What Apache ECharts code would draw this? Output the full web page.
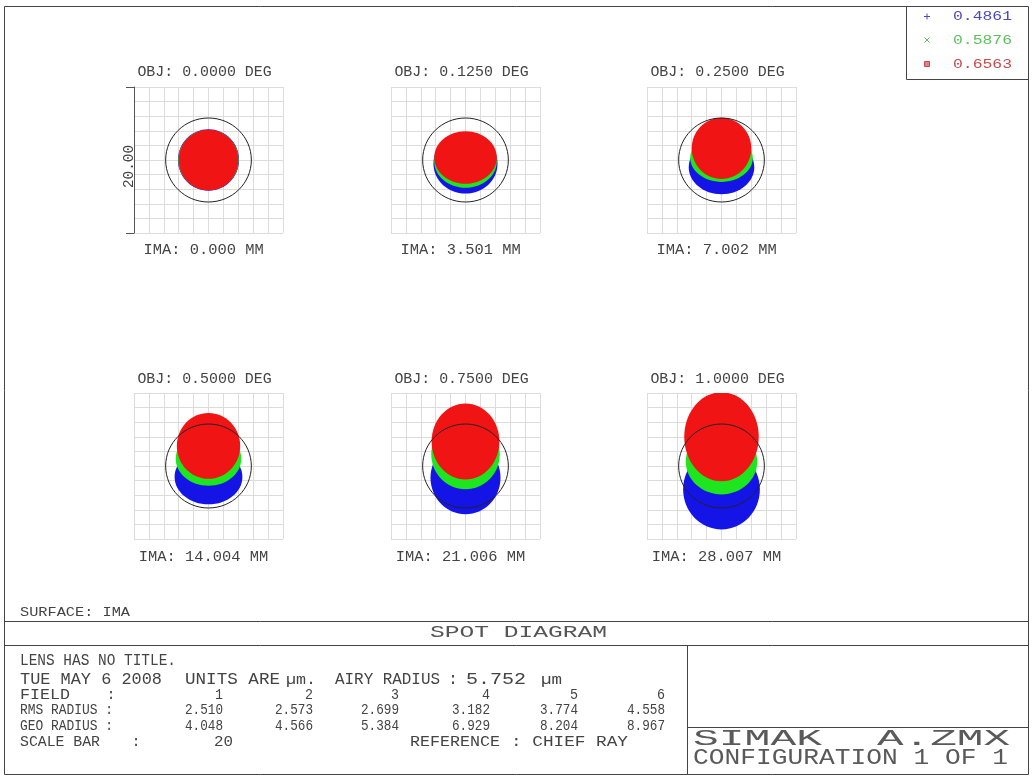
<!DOCTYPE html>
<html><head><meta charset="utf-8">
<script src="https://cdn.jsdelivr.net/npm/echarts@6/dist/echarts.min.js"></script>
<style>html,body{margin:0;padding:0;background:#fff}#c{width:1033px;height:776px}</style>
</head><body><div id="c"></div>
<script>
// ---------- data ----------
const objLabels = ['OBJ: 0.0000 DEG','OBJ: 0.1250 DEG','OBJ: 0.2500 DEG','OBJ: 0.5000 DEG','OBJ: 0.7500 DEG','OBJ: 1.0000 DEG'];
const imaLabels = ['IMA: 0.000 MM','IMA: 3.501 MM','IMA: 7.002 MM','IMA: 14.004 MM','IMA: 21.006 MM','IMA: 28.007 MM'];
const fieldNumbers = ['1','2','3','4','5','6'];
const rmsRadius = ['2.510','2.573','2.699','3.182','3.774','4.558'];
const geoRadius = ['4.048','4.566','5.384','6.929','8.204','8.967'];
const wavelengths = ['0.4861','0.5876','0.6563'];
const airyRadius = 5.752;
const scaleBar = '20';
// spot footprint per field, in µm relative to chief ray: [cx, cy, rx, ry]
const spotBlue  = [[0,0,4.1,4.2],[0,-0.5,4.3,4.1],[0,-1.0,4.4,3.7],[0,-1.5,4.55,3.75],[0,-1.6,4.7,5.0],[0,-3.2,5.15,5.5]];
const spotGreen = [[0,0,4.05,4.1],[0,-0.2,4.2,3.6],[0,0.3,4.2,3.3],[0,1.0,4.4,3.7],[0,1.6,4.6,4.8],[0,0.6,4.8,4.5]];
const spotRed   = [[0,0,4.0,4.15],[0,0.35,4.2,3.6],[0,1.6,4.0,4.2],[0,2.75,4.25,4.5],[0,3.35,4.55,5.2],[0,4.0,5.0,6.1]];

// ---------- styling / layout ----------
const spotColors = ['#1414e6','#1ee61e','#f01414'];
const legendColors = ['#4b4bbf','#5cbf5c','#c44c4c'];
const gridLeft = [134, 391, 647], gridTop = [87, 393], gridW = 149, gridH = 146;
const INK = '#444444';
const FONT = '"Liberation Mono", monospace';
const mctx = document.createElement('canvas').getContext('2d');

function txt(str, x, y, cap, w, o) {
  o = o || {};
  const fs = cap / 0.659;
  const font = fs.toFixed(2) + 'px ' + FONT;
  mctx.font = font;
  const mw = mctx.measureText(str).width;
  const sx = w ? w / mw : 1;
  const al = o.align || 'left';
  return {type:'text', x:x, y:y, rotation:o.rot || 0, scaleX:sx, silent:true, z:10,
    style:{text:str, x:0, y:0, font:font, fill:o.color || INK,
      align:al, verticalAlign:'middle', textAlign:al, textVerticalAlign:'middle'}};
}
function ln(x1,y1,x2,y2,c,w){
  return {type:'line', silent:true, z:5, shape:{x1:x1,y1:y1,x2:x2,y2:y2}, style:{stroke:c||'#444', lineWidth:w||1}};
}

const grids = [], xAxes = [], yAxes = [], series = [], graphics = [];
for (let i = 0; i < 6; i++) {
  const col = i % 3, row = Math.floor(i / 3);
  grids.push({left:gridLeft[col], top:gridTop[row], width:gridW, height:gridH, containLabel:false});
  const ax = {gridIndex:i, type:'value', min:-10, max:10, interval:2,
    axisLine:{show:false}, axisTick:{show:false}, axisLabel:{show:false},
    splitLine:{show:true, lineStyle:{color:'#dcdcdc', width:1}}};
  xAxes.push(Object.assign({}, ax));
  yAxes.push(Object.assign({}, ax));
}
// scale bar on first plot
yAxes.push({gridIndex:0, type:'value', min:-10, max:10, interval:20, position:'left',
  axisLine:{show:true, lineStyle:{color:'#555', width:1}},
  axisTick:{show:true, length:8, lineStyle:{color:'#555', width:1}},
  axisLabel:{show:false}, splitLine:{show:false}});

function ellipseRender(fill, stroke) {
  return function(params, api) {
    const c = api.coord([api.value(0), api.value(1)]);
    const s = api.size([api.value(2), api.value(3)]);
    return {type:'ellipse', shape:{cx:c[0], cy:c[1], rx:s[0], ry:s[1]},
      style: stroke ? {fill:'none', stroke:stroke, lineWidth:1} : {fill:fill}};
  };
}
const spots = [spotBlue, spotGreen, spotRed];
for (let i = 0; i < 6; i++) {
  for (let w = 0; w < 3; w++) {
    series.push({type:'custom', name:wavelengths[w], xAxisIndex:i, yAxisIndex:i, clip:true, silent:true,
      z:2 + w, data:[spots[w][i]], renderItem:ellipseRender(spotColors[w])});
  }
  series.push({type:'custom', name:'airy', xAxisIndex:i, yAxisIndex:i, clip:true, silent:true, z:6,
    data:[[0, 0, airyRadius, airyRadius]], renderItem:ellipseRender(null, '#222')});
}

// plot labels
for (let i = 0; i < 6; i++) {
  const col = i % 3, row = Math.floor(i / 3);
  const cx = gridLeft[col] + gridW / 2;
  graphics.push(txt(objLabels[i], cx - 4, row ? 379 : 72, 9.3, objLabels[i].length * 8.95, {align:'center'}));
  graphics.push(txt(imaLabels[i], cx - 5, row ? 557 : 250, 9.3, imaLabels[i].length * 9.25, {align:'center'}));
}
graphics.push(txt(scaleBar + '.00', 129, 166.5, 10, 43, {align:'center', rot:Math.PI / 2}));

// frames
graphics.push(ln(4.5,6.5,1028.5,6.5), ln(4.5,6.5,4.5,774.5), ln(1028.5,6.5,1028.5,774.5), ln(4.5,774.5,1028.5,774.5));
graphics.push(ln(4.5,621.5,1028.5,621.5), ln(4.5,645.5,1028.5,645.5), ln(687.5,645.5,687.5,774.5), ln(687.5,727.5,1028.5,727.5));
graphics.push(ln(906.5,6.5,906.5,79.5), ln(906.5,79.5,1028.5,79.5));

// legend
const ly = [16.5, 40, 64];
graphics.push(ln(924,ly[0],930,ly[0],legendColors[0]), ln(927,ly[0]-3,927,ly[0]+3,legendColors[0]));
graphics.push(ln(924.5,ly[1]-2.5,929.5,ly[1]+2.5,legendColors[1]), ln(924.5,ly[1]+2.5,929.5,ly[1]-2.5,legendColors[1]));
graphics.push({type:'rect', silent:true, z:5, shape:{x:924.5, y:ly[2]-2.5, width:5, height:5}, style:{fill:'#e08080', stroke:legendColors[2], lineWidth:1}});
for (let w = 0; w < 3; w++) graphics.push(txt(wavelengths[w], 953, ly[w], 9, 59, {color:legendColors[w]}));

// bottom text block
graphics.push(txt('SURFACE: IMA', 20, 612.5, 8.5, 110));
graphics.push(txt('SPOT DIAGRAM', 518.5, 633, 11, 177, {align:'center', color:'#555'}));
graphics.push(txt('LENS HAS NO TITLE.', 20, 661, 10.5, 156));
const l2 = 679.5;
graphics.push(txt('TUE MAY 6 2008', 20, l2, 11, 142));
graphics.push(txt('UNITS ARE', 185, l2, 11, 95));
graphics.push(txt('µm.', 286, l2, 10, 30));
graphics.push(txt('AIRY RADIUS', 335, l2, 11, 105));
graphics.push(txt(':', 453, l2, 11, null, {align:'center'}));
graphics.push(txt(airyRadius.toFixed(3), 466, l2, 11, 60));
graphics.push(txt('µm', 541, l2, 10, 21));
const rowY = [695, 710, 725.7];
graphics.push(txt('FIELD', 20, rowY[0], 10, 50), txt(':', 111, rowY[0], 10, null, {align:'center'}));
graphics.push(txt('RMS RADIUS :', 20, rowY[1], 10, 93));
graphics.push(txt('GEO RADIUS :', 20, rowY[2], 10, 93));
const colRight = [223, 313, 399, 490, 578, 665];
for (let i = 0; i < 6; i++) {
  graphics.push(txt(fieldNumbers[i], colRight[i], rowY[0], 10, 8, {align:'right'}));
  graphics.push(txt(rmsRadius[i], colRight[i], rowY[1], 10, 38, {align:'right'}));
  graphics.push(txt(geoRadius[i], colRight[i], rowY[2], 10, 38, {align:'right'}));
}
graphics.push(txt('SCALE BAR', 20, 741.7, 10, 80), txt(':', 136, 741.7, 10, null, {align:'center'}));
graphics.push(txt(scaleBar, 233, 741.7, 10, 19, {align:'right'}));
graphics.push(txt('REFERENCE', 410, 741.7, 10, 90));
graphics.push(txt(': CHIEF RAY', 511, 741.7, 10, 117));
graphics.push(txt('SIMAK', 693, 739.7, 14, 129, {color:'#5a5a5a'}));
graphics.push(txt('A.ZMX', 877, 739.7, 14, 133, {color:'#5a5a5a'}));
graphics.push(txt('CONFIGURATION 1 OF 1', 693, 758, 15, 315, {color:'#5a5a5a'}));

const chart = echarts.init(document.getElementById('c'), null, {renderer:'canvas'});
chart.setOption({
  backgroundColor:'#ffffff',
  animation:false,
  grid:grids, xAxis:xAxes, yAxis:yAxes, series:series,
  graphic:{elements:graphics}
});
</script></body></html>
